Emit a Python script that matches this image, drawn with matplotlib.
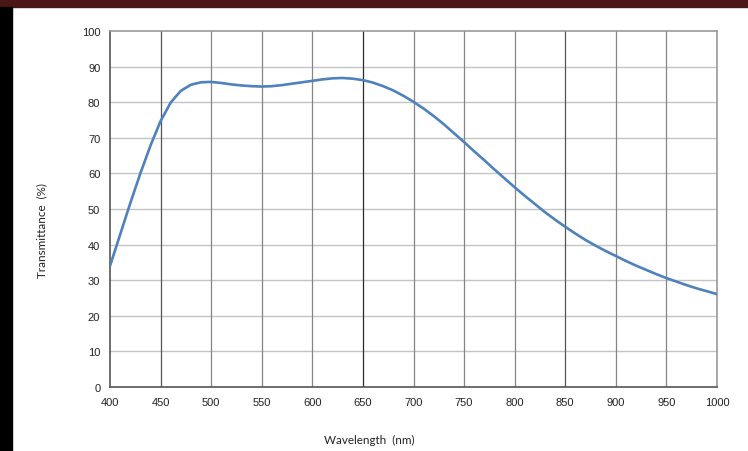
import numpy as np
import matplotlib.pyplot as plt
from matplotlib.patches import Rectangle

# Wavelength (nm) and transmittance (%)
wavelength = [400, 410, 420, 430, 440, 450, 460, 470, 480, 490,
              500, 510, 520, 530, 540, 550, 560, 570, 580, 590,
              600, 610, 620, 630, 640, 650, 660, 670, 680, 690,
              700, 710, 720, 730, 740, 750, 760, 770, 780, 790,
              800, 810, 820, 830, 840, 850, 860, 870, 880, 890,
              900, 910, 920, 930, 940, 950, 960, 970, 980, 990, 1000]
transmittance = [34.0, 42.8, 51.6, 60.0, 67.8, 74.7, 79.9, 83.2, 84.9, 85.6,
                 85.7, 85.4, 85.0, 84.7, 84.5, 84.4, 84.5, 84.8, 85.2, 85.6,
                 86.0, 86.4, 86.7, 86.8, 86.6, 86.2, 85.5, 84.5, 83.3, 81.8,
                 80.1, 78.2, 76.1, 73.8, 71.3, 68.8, 66.2, 63.7, 61.1, 58.6,
                 56.1, 53.7, 51.4, 49.1, 47.0, 45.0, 43.1, 41.3, 39.7, 38.2,
                 36.8, 35.4, 34.1, 32.9, 31.7, 30.6, 29.6, 28.6, 27.7, 26.9, 26.1]

x_ticks = list(range(400, 1001, 50))
y_ticks = list(range(0, 101, 10))

fig = plt.figure(figsize=(7.48, 4.52), dpi=100)

# frame bits of the screenshot: dark red strip on top, black bar on the left
fig.patches.append(Rectangle((0, 1 - 8 / 452), 1, 8 / 452, transform=fig.transFigure,
                             color='#4a1616', zorder=0))
fig.patches.append(Rectangle((0, 0), 12 / 748, 1 - 8 / 452, transform=fig.transFigure,
                             color='black', zorder=0))

ax = fig.add_axes([110 / 748, 1 - 388 / 452, 607 / 748, 356 / 452])

# grid
for yv in y_ticks[1:-1]:
    ax.axhline(yv, color='#c4c4c4', lw=1.0, zorder=1)
for xv in x_ticks[1:-1]:
    c = '#2a2a2a' if xv == 650 else ('#555555' if xv in (450, 850) else '#858585')
    ax.axvline(xv, color=c, lw=0.9, zorder=1)

ax.plot(wavelength, transmittance, color='#4f81bd', lw=1.9, zorder=3,
        solid_joinstyle='round')

ax.set_xlim(400, 1000)
ax.set_ylim(0, 100)
ax.set_xticks(x_ticks)
ax.set_yticks(y_ticks)
ax.tick_params(length=0, labelsize=8, pad=7, colors='#222222')
for lab in ax.get_xticklabels() + ax.get_yticklabels():
    lab.set_family('Liberation Sans')

ax.spines['left'].set_color('#555555')
ax.spines['bottom'].set_color('#555555')
ax.spines['top'].set_color('#999999')
ax.spines['right'].set_color('#999999')
for s in ax.spines.values():
    s.set_linewidth(1.2)

fig.text(369 / 748, 1 - 440 / 452, 'Wavelength  (nm)', ha='center', va='center',
         fontsize=8.4, family='Lato', color='#222222')
fig.text(42 / 748, 1 - 231 / 452, 'Transmittance  (%)', ha='center', va='center',
         rotation=90, fontsize=8.4, family='Lato', color='#222222')

fig.savefig('out.png', dpi=100)
